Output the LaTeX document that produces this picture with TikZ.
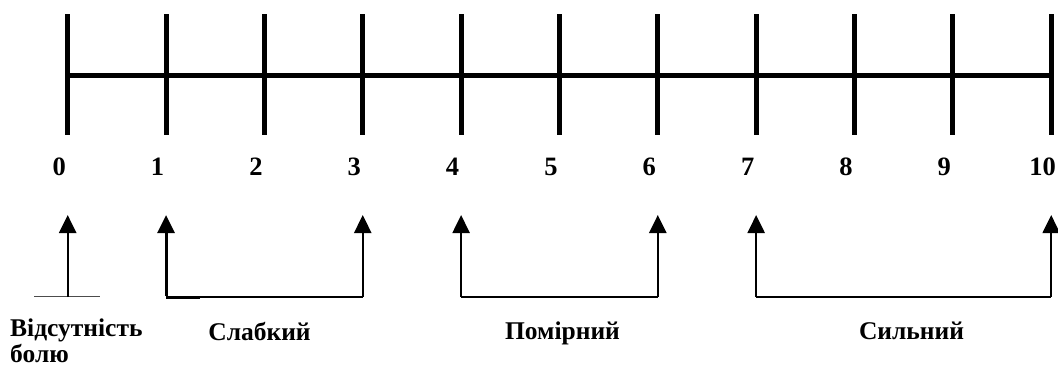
\documentclass[tikz,border=0pt]{standalone}
\usepackage{fontspec}
\setmainfont{Liberation Serif}
\usetikzlibrary{arrows.meta}
\begin{document}
\begin{tikzpicture}[x=1pt,y=-1pt,
  axis/.style={line width=5pt},
  tickline/.style={line width=5pt},
  num/.style={anchor=base,inner sep=0pt,font=\fontsize{26.5}{28}\selectfont\bfseries},
  lbl/.style={anchor=base,inner sep=0pt,font=\fontsize{25.5}{28}\selectfont\bfseries},
  arr/.style={line width=2.4pt,-{Triangle[width=17pt,length=18pt]}},
  bracket/.style={line width=2pt}]
\useasboundingbox (0,0) rectangle (1058,367);
% ticks
\foreach \i in {0,...,10}{
  \coordinate (t\i) at ({67.7+98.35*\i},14);
  \coordinate (u\i) at ({67.7+98.35*\i},135);
  \draw[tickline] (t\i) -- (u\i);
  \node[num] (n\i) at ({59.2+98.35*\i},175) {\i};
}
\coordinate (axl) at (65,75.3);
\coordinate (axr) at (1053,75.3);
\draw[axis] (axl) -- (axr);
% arrow heads and bases
\foreach \i in {0,1,3,4,6,7,10}{
  \coordinate (a\i) at ({67.7+98.35*\i},215);
  \coordinate (b\i) at ({67.7+98.35*\i},297);
}
% no pain
\coordinate (g1) at (34,296.5);
\coordinate (g2) at (100,296.5);
\draw[line width=1pt,black!70] (g1) -- (g2);
\draw[arr] (b0) -- (a0);
% weak
\draw[bracket] (b1) -- (b3);
\draw[line width=3pt] (b1) -- ([xshift=34pt]b1);
\draw[arr,line width=3pt] ([yshift=1pt]b1) -- (a1);
\draw[arr] (b3) -- (a3);
% moderate
\draw[bracket] (b4) -- (b6);
\draw[arr] (b4) -- (a4);
\draw[arr] (b6) -- (a6);
% strong
\draw[bracket] (b7) -- (b10);
\draw[arr] (b7) -- (a7);
\draw[arr] (b10) -- (a10);
% labels
\node[lbl,anchor=base west] (l0a) at (10,336) {Відсутність};
\node[lbl,anchor=base west] (l0b) at (10,362) {болю};
\node[lbl] (l1) at (259.5,340) {Слабкий};
\node[lbl] (l2) at (562.5,339) {Помірний};
\node[lbl] (l3) at (911.5,339) {Сильний};
\end{tikzpicture}
\end{document}
